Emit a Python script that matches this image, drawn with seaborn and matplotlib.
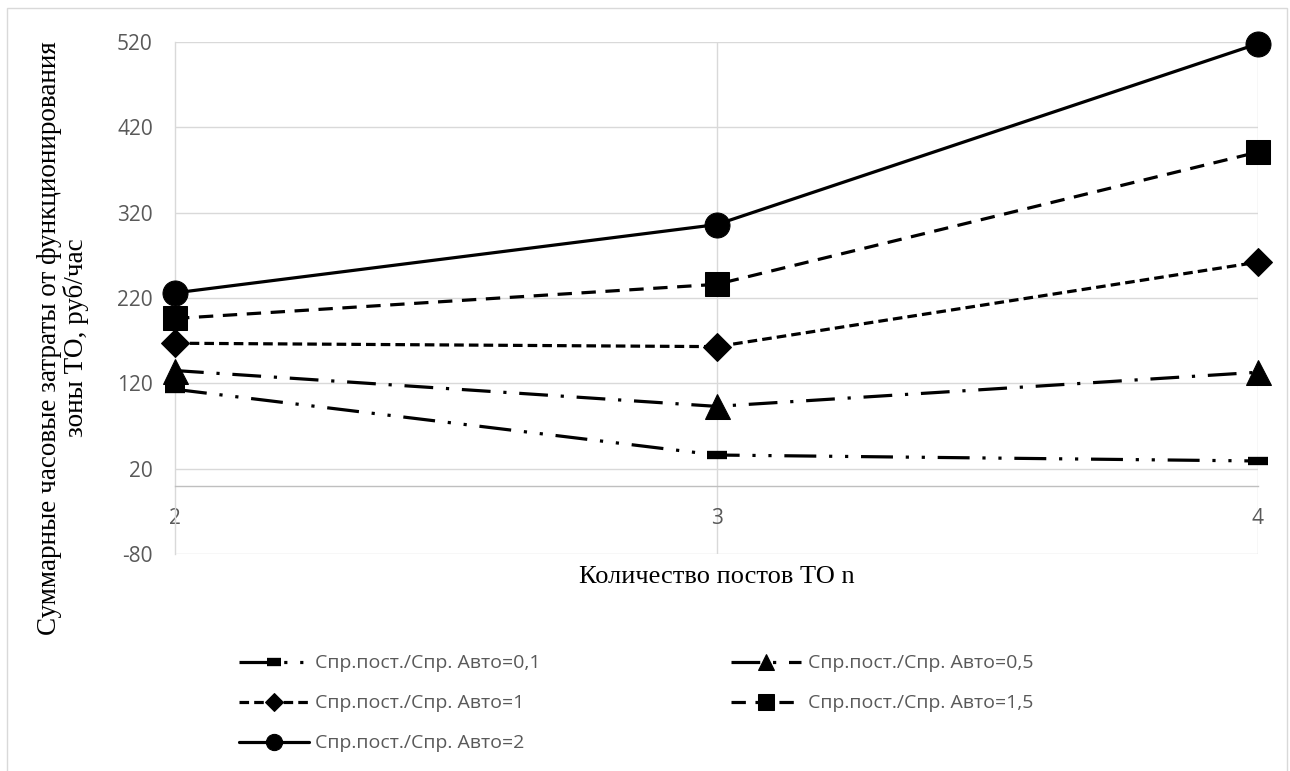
import matplotlib
matplotlib.use("Agg")
import matplotlib.pyplot as plt
import seaborn as sns
import pandas as pd
from matplotlib.patches import Rectangle

# ---- data ----
posts = [2, 3, 4]
labels = ["Спр.пост./Спр. Авто=0,1", "Спр.пост./Спр. Авто=0,5",
          "Спр.пост./Спр. Авто=1", "Спр.пост./Спр. Авто=1,5",
          "Спр.пост./Спр. Авто=2"]
vals_01 = [113, 36, 29]
vals_05 = [135, 93, 133]
vals_1 = [167, 163, 262]
vals_15 = [196, 236, 391]
vals_2 = [226, 306, 518]
yticks = [-80, 20, 120, 220, 320, 420, 520]
xlabel = "Количество постов ТО n"
ylabel = "Суммарные часовые затраты от функционирования\nзоны ТО, руб/час"

sns.set_theme(style="white")
plt.rcParams['font.family'] = ['Open Sans', 'DejaVu Sans']
plt.rcParams['axes.unicode_minus'] = False

fig = plt.figure(figsize=(12.9, 7.71), dpi=100)
ax = fig.add_axes([175/1290, 1-554/771, (1258-175)/1290, (554-42)/771])

series = [vals_01, vals_05, vals_1, vals_15, vals_2]
styles = [
    dict(marker='_', markersize=15, markeredgewidth=6, linestyle=(0, (10, 4, 1, 4, 1, 4))),
    dict(marker='^', markersize=18, linestyle=(0, (9, 4, 1, 4))),
    dict(marker='D', markersize=14, linestyle=(0, (3, 1.6))),
    dict(marker='s', markersize=17, linestyle=(0, (4.5, 3))),
    dict(marker='o', markersize=18, linestyle='-'),
]
for vals, lab, st in zip(series, labels, styles):
    sns.lineplot(x=posts, y=vals, ax=ax, color='black', lw=2.3, label=lab,
                 markeredgecolor='black', markerfacecolor='black',
                 clip_on=False, zorder=5, **st)

ax.set_xlim(2, 4)
ax.set_ylim(-80, 520)
ax.set_yticks(yticks)
ax.set_xticks(posts)
ax.grid(False)
for y in yticks:
    ax.axhline(y, color='#d9d9d9', lw=1, zorder=0)
for x in [3, 4]:
    ax.axvline(x, color='#d9d9d9', lw=1, zorder=0)
for s in ['top', 'right']:
    ax.spines[s].set_visible(False)
ax.spines['left'].set_color('#d9d9d9')
ax.spines['left'].set_linewidth(1)
ax.spines['bottom'].set_position(('data', 0))
ax.spines['bottom'].set_color('#bfbfbf')
ax.spines['bottom'].set_linewidth(1)
ax.tick_params(axis='both', length=0, labelsize=15, labelcolor='#595959')
ax.tick_params(axis='x', pad=16)
ax.tick_params(axis='y', pad=16)
ax.set_xlabel('')
ax.set_ylabel('')

h, l = ax.get_legend_handles_labels()
ax.get_legend().remove()
order = [0, 2, 4, 1, 3]
leg = fig.legend([h[i] for i in order], [l[i] for i in order], ncol=2,
                 loc='upper left', bbox_to_anchor=(221/1290, 1-637/771),
                 frameon=False, fontsize=14, handlelength=3.6, handletextpad=0.35,
                 columnspacing=9.8, labelspacing=1.13, labelcolor='#595959',
                 markerscale=0.65)

fig.text((175+1258)/2/1290, 1-577/771, xlabel, ha='center', va='center',
         fontsize=19, family=['Liberation Serif'], color='black')
fig.text(63/1290, 1-338/771, ylabel, ha='center', va='center', rotation=90,
         fontsize=19.5, family=['Liberation Serif'], color='black', linespacing=1.05)

fig.patches.append(Rectangle((7/1290, -0.01), (1287-7)/1290, 1.01-8/771,
                             transform=fig.transFigure, fill=False,
                             edgecolor='#d9d9d9', lw=1))

fig.savefig('out.png', dpi=100)
